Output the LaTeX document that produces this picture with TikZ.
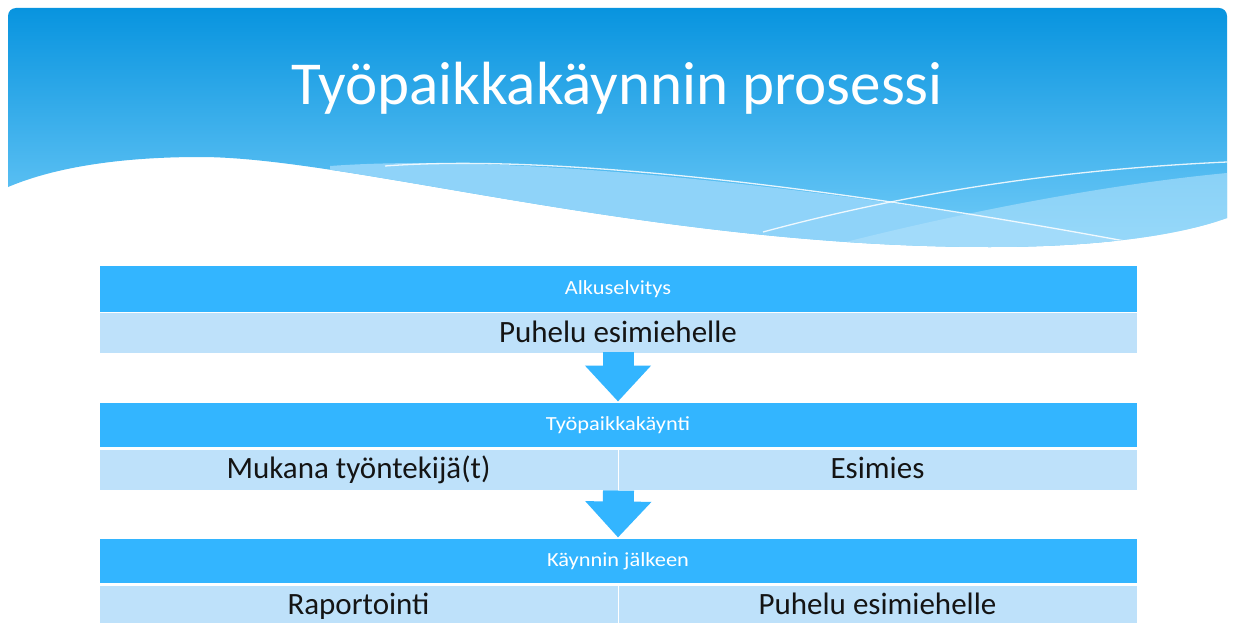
\documentclass[tikz,border=0pt]{standalone}
\usepackage{fontspec}
\setmainfont{Carlito}
\usetikzlibrary{arrows.meta}
\definecolor{hdrtop}{HTML}{0894DF}
\definecolor{hdrbot}{HTML}{74CDF9}
\definecolor{bandA}{HTML}{8FD3F9}
\definecolor{bandB}{HTML}{B0E1FB}
\definecolor{stephdr}{HTML}{33B5FF}
\definecolor{stepbody}{HTML}{BEE1FA}
\definecolor{bodytext}{HTML}{141414}
\newcommand{\widetxt}[1]{\scalebox{1.12}[1]{#1}}
\tikzset{
  hdrbox/.style={fill=stephdr, draw=white, line width=1pt, text=white, inner sep=0pt,
    minimum width=1038pt, font=\fontsize{20}{22}\selectfont,
    text height=13pt, text depth=1pt},
  bodybox/.style={fill=stepbody, draw=white, line width=1pt, text=bodytext, inner sep=0pt,
    font=\fontsize{31}{33}\selectfont, text height=20pt, text depth=2pt},
  fullbody/.style={bodybox, minimum width=1038pt},
  halfbody/.style={bodybox, minimum width=519pt},
  flowarrow/.style={draw=stephdr, line width=31pt, -{Triangle[width=64pt,length=36pt]}},
  wline/.style={draw=white, line width=1.3pt, opacity=0.85}
}
\begin{document}
\begin{tikzpicture}[x=1pt,y=-1pt]
\useasboundingbox (0,0) rectangle (1233,623);
\fill[white] (0,0) rectangle (1233,623);
% header banner
\begin{scope}
  \clip[rounded corners=8pt] (8,8) rectangle (1227,320);
  \clip (8,8) -- (1227,8) -- (1227,218)
     .. controls (1180,235) and (1100,247) .. (990,247)
     .. controls (650,247) and (350,157) .. (200,157)
     .. controls (130,157) and (60,165) .. (8,187) -- cycle;
  \shade[top color=hdrtop, bottom color=hdrbot] (8,8) rectangle (1227,250);
  \fill[bandA] (330,166) .. controls (520,152) and (850,190) .. (1130,242) -- (1130,320) -- (330,320) -- cycle;
  \fill[bandB, opacity=0.6] (830,246) .. controls (950,215) and (1100,185) .. (1227,173) -- (1227,320) -- (830,320) -- cycle;
  \draw[wline] (385,166) .. controls (560,153) and (850,190) .. (1130,242);
  \draw[wline] (763,232) .. controls (900,195) and (1050,170) .. (1227,162);
\end{scope}
\node[text=white, anchor=base, font=\fontsize{61}{64}\selectfont] (title) at (617,105) {Työpaikkakäynnin prosessi};
% step 1
\node[hdrbox, minimum height=47pt] (h1) at (618,288.5) {\widetxt{Alkuselvitys}};
\node[fullbody, minimum height=41pt] (b1) at (618,333) {Puhelu esimiehelle};
% step 2
\node[hdrbox, minimum height=45pt] (h2) at (618,424.5) {\widetxt{Työpaikkakäynti}};
\node[halfbody, minimum height=41pt] (b2l) at (358.5,469.5) {Mukana työntekijä(t)};
\node[halfbody, minimum height=41pt] (b2r) at (877.5,469.5) {Esimies};
% step 3
\node[hdrbox, minimum height=45pt] (h3) at (618,560.5) {\widetxt{Käynnin jälkeen}};
\node[halfbody, minimum height=40pt] (b3l) at (358.5,605) {Raportointi};
\node[halfbody, minimum height=40pt] (b3r) at (877.5,605) {Puhelu esimiehelle};
% arrows
\draw[flowarrow] ([yshift=2pt]b1.south) -- (h2.north);
\draw[flowarrow] (b2l.south east) -- (h3.north);
\end{tikzpicture}
\end{document}
